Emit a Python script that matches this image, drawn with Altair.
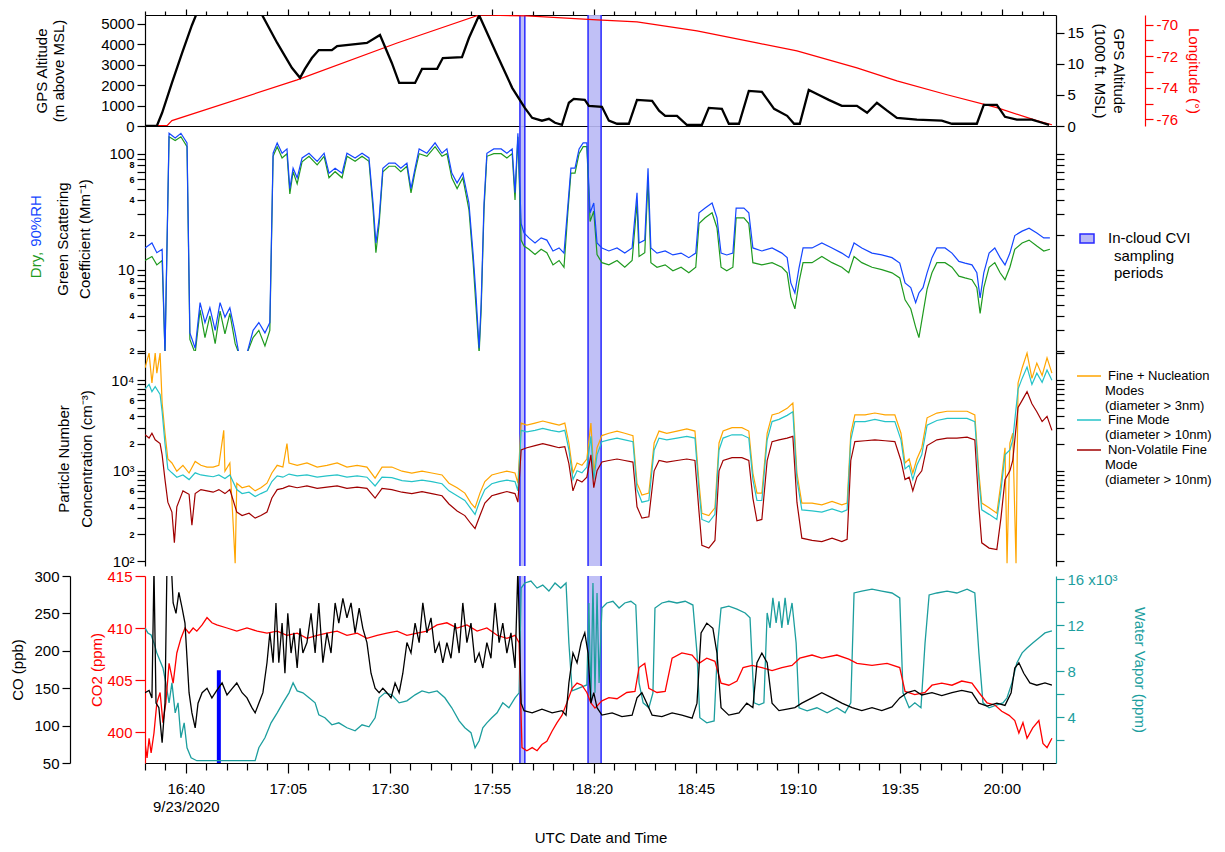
import altair as alt
import pandas as pd

FONT = "Liberation Sans"

# ---------------- time axis: minutes after 16:30 UTC on 9/23/2020 ----------------
x_domain = [0, 223.3]
major_ticks = [10, 35, 60, 85, 110, 135, 160, 185, 210]
minor_ticks = [0, 5, 15, 20, 25, 30, 40, 45, 50, 55, 65, 70, 75, 80, 90, 95, 100, 105,
               115, 120, 125, 130, 140, 145, 150, 155, 165, 170, 175, 180, 190, 195,
               200, 205, 215, 220]

# in-cloud CVI sampling periods (minutes after 16:30)
cvi_start = [91.9, 108.6]
cvi_end = [93.1, 111.8]

# ---------------- panel 1: GPS altitude (m) and longitude (deg) ----------------
altitude_m = [(0, 0), (2.9, 0), (4.2, 650), (6.6, 2110), (9.1, 3580), (11.5, 4940), (12.7, 5530),
              (16, 6500), (24, 6500), (28.7, 5440), (32.4, 4070), (36.0, 2850), (38.0, 2360),
              (39.2, 2800), (40.9, 3330), (42.6, 3720), (45.8, 3720), (47.1, 3920), (54.4, 4070),
              (57.6, 4460), (60.5, 3090), (62.3, 2110), (66.2, 2110), (67.9, 2800), (71.6, 2800),
              (73.0, 3330), (77.7, 3380), (79.4, 4310), (81.9, 5430), (86.3, 3480), (90.0, 1870),
              (93.1, 890), (94.9, 400), (97.3, 260), (99.0, 350), (100.5, 160), (102.2, 60),
              (103.9, 1140), (105.1, 1330), (107.8, 1280), (108.8, 990), (112.0, 940), (113.7, 260),
              (115.7, 110), (118.6, 110), (120.6, 1280), (124.3, 1230), (126.0, 750), (127.5, 500),
              (130.4, 500), (132.8, 60), (136.5, 60), (138.2, 890), (141.4, 840), (143.1, 110),
              (145.6, 110), (148.0, 1720), (151.2, 1670), (154.2, 840), (157.4, 500), (159.1, 110),
              (160.5, 110), (162.7, 1770), (165.2, 1520), (167.6, 1280), (170.8, 990), (174.5, 990),
              (177.0, 650), (179.4, 1140), (181.9, 750), (184.3, 400), (189.2, 310), (195.3, 260),
              (197.8, 110), (203.9, 110), (205.6, 1040), (208.8, 1040), (210.8, 450), (213.7, 310),
              (217.4, 310), (219.9, 160), (221.6, 60)]
longitude_deg = [(0, -76.4), (5.4, -76.4), (6.6, -76.08), (37.3, -73.5), (61.8, -71.16), (81.9, -69.39),
                 (93.6, -69.45), (110.8, -69.70), (120.6, -69.83), (135.3, -70.40), (150, -71.16),
                 (159.8, -71.66), (174.5, -72.74), (184.3, -73.56), (196.6, -74.44), (208.8, -75.26),
                 (218.6, -76.08), (222.3, -76.34)]
alt_ticks = [0, 1000, 2000, 3000, 4000, 5000]
kft_ticks = [0, 5, 10, 15]
lon_ticks = [-76, -75, -74, -73, -72, -71, -70]

# ---------------- panel 2: green scattering coefficient (Mm-1) ----------------
scat_90rh = [(0, 15.4), (1.7, 17), (2.9, 14), (4.2, 15), (4.9, 1.9), (5.9, 150), (7.4, 137), (8.8, 150),
             (10.3, 124), (11.0, 2.85), (12.3, 2.1), (13.5, 5.2), (14.7, 3.5), (15.9, 4.7), (17.2, 3.0),
             (18.4, 5.2), (19.6, 3.9), (20.8, 4.7), (22.1, 2.85), (23.0, 1.9), (25.0, 1.9), (26.5, 3.0),
             (27.9, 3.5), (29.4, 2.85), (30.6, 3.5), (31.4, 101), (32.4, 124), (33.6, 101), (34.8, 110),
             (35.5, 50), (36.3, 75), (37.3, 62), (38.5, 92), (40.2, 101), (42.2, 86), (43.9, 101),
             (45.1, 68), (46.6, 75), (48.3, 68), (49.5, 101), (51.5, 92), (53.2, 101), (54.9, 92),
             (55.9, 37.6), (56.6, 17), (57.4, 28), (58.3, 75), (59.8, 83), (61.3, 83), (62.7, 75),
             (64.2, 83), (65.2, 50), (66.2, 75), (67.2, 110), (69.1, 101), (71.1, 124), (72.8, 101),
             (74.0, 110), (75.2, 68), (76.5, 56), (77.9, 68), (79.4, 37.6), (80.4, 14), (81.1, 6.3),
             (81.9, 2.1), (82.4, 5.2), (83.1, 37.6), (83.8, 101), (85.5, 110), (87.3, 110), (88.7, 101),
             (90.0, 110), (90.7, 46), (91.4, 150), (92.2, 25), (92.9, 20.7), (94.1, 18.8), (95.6, 17),
             (97.1, 18.8), (98.5, 18), (100.0, 14.5), (101.5, 15.4), (102.7, 13.9), (103.7, 37.6),
             (104.4, 75), (105.4, 75), (106.4, 110), (107.4, 124), (108.3, 124), (109.1, 31), (110.0, 37.6),
             (110.8, 17), (112.0, 15.4), (113.7, 14.5), (115.7, 15.4), (117.6, 13.9), (119.4, 15.4),
             (120.6, 46), (121.1, 17), (122.5, 18), (123.3, 75), (124.0, 15.4), (125.5, 13.9), (127.5, 14.5),
             (129.4, 13.4), (131.4, 13.9), (133.3, 12.7), (135.0, 13.9), (135.8, 31), (137.3, 34),
             (139.0, 37.6), (140.2, 28), (141.2, 13.9), (142.6, 13.4), (144.1, 13.9), (144.9, 34),
             (146.8, 34), (148.0, 31), (149.0, 15.4), (151.2, 14.5), (153.7, 15.4), (156.1, 13.9),
             (157.4, 12.7), (158.3, 7.7), (159.3, 6.3), (160.3, 10.3), (161.3, 15.4), (163.5, 15.4),
             (165.9, 17), (168.4, 15.4), (170.8, 13.9), (172.5, 12.7), (173.8, 17), (175.7, 15.4),
             (178.2, 13.9), (180.6, 13.4), (183.1, 12.7), (185.0, 11.4), (186.3, 7.7), (187.7, 7),
             (188.9, 5.2), (189.7, 6.3), (190.7, 7), (191.7, 9.4), (192.9, 12.7), (194.1, 15.4),
             (196.1, 15.4), (197.8, 13.9), (199.5, 11.8), (201.0, 11.4), (202.7, 11), (203.9, 9.4),
             (204.7, 5.7), (205.6, 9.4), (206.9, 13.9), (208.3, 15.4), (209.6, 12.7), (210.8, 11),
             (212.0, 13.9), (213.2, 19.7), (215.0, 21.5), (216.7, 22.8), (218.6, 20.7), (220.3, 18.8),
             (221.8, 18.8)]
scat_dry = [(0, 12), (1.7, 13), (2.9, 11), (4.2, 12), (4.9, 1.9), (5.9, 140), (7.4, 130), (8.8, 140),
            (10.3, 115), (11.0, 2.5), (12.3, 1.9), (13.5, 4.5), (14.7, 2.6), (15.9, 4.0), (17.2, 2.3),
            (18.4, 4.4), (19.6, 2.8), (20.8, 4.2), (22.1, 2.3), (23.0, 1.9), (25.0, 1.9), (26.5, 2.6),
            (27.9, 3.0), (29.4, 2.2), (30.6, 3.0), (31.4, 95), (32.4, 115), (33.6, 92), (34.8, 100),
            (35.5, 45), (36.3, 70), (37.3, 55), (38.5, 85), (40.2, 95), (42.2, 80), (43.9, 95), (45.1, 62),
            (46.6, 70), (48.3, 62), (49.5, 95), (51.5, 86), (53.2, 95), (54.9, 86), (55.9, 33), (56.6, 14),
            (57.4, 25), (58.3, 70), (59.8, 78), (61.3, 78), (62.7, 70), (64.2, 78), (65.2, 46), (66.2, 70),
            (67.2, 100), (69.1, 95), (71.1, 115), (72.8, 95), (74.0, 100), (75.2, 62), (76.5, 50),
            (77.9, 62), (79.4, 33), (80.4, 12), (81.1, 5), (81.9, 1.9), (82.4, 4.5), (83.1, 33), (83.8, 95),
            (85.5, 100), (87.3, 100), (88.7, 92), (90.0, 100), (90.7, 40), (91.4, 140), (92.2, 18),
            (92.9, 16), (94.1, 15), (95.6, 13.5), (97.1, 15), (98.5, 14), (100.0, 11), (101.5, 12),
            (102.7, 10.5), (103.7, 33), (104.4, 68), (105.4, 68), (106.4, 100), (107.4, 115), (108.3, 115),
            (109.1, 26), (110.0, 32), (110.8, 13.5), (112.0, 11.5), (113.7, 11), (115.7, 12), (117.6, 10.5),
            (119.4, 12), (120.6, 38), (121.1, 13), (122.5, 14), (123.3, 60), (124.0, 11.5), (125.5, 10.5),
            (127.5, 11), (129.4, 9.8), (131.4, 10.5), (133.3, 9.4), (135.0, 10.5), (135.8, 25), (137.3, 28),
            (139.0, 31), (140.2, 23), (141.2, 10.5), (142.6, 9.8), (144.1, 10.5), (144.9, 28), (146.8, 28),
            (148.0, 25), (149.0, 11.5), (151.2, 11), (153.7, 11.5), (156.1, 10.5), (157.4, 9.4), (158.3, 5.8),
            (159.3, 4.6), (160.3, 7.8), (161.3, 11.5), (163.5, 11.5), (165.9, 13), (168.4, 11.5),
            (170.8, 10.5), (172.5, 9.4), (173.8, 13), (175.7, 11.5), (178.2, 10.5), (180.6, 10), (183.1, 9.4),
            (185.0, 8.5), (186.3, 5.5), (187.7, 4.6), (188.9, 3.2), (189.7, 2.6), (190.7, 4.2), (191.7, 6.8),
            (192.9, 9.4), (194.1, 11.5), (196.1, 11.5), (197.8, 10.5), (199.5, 8.8), (201.0, 8.5),
            (202.7, 8.2), (203.9, 7), (204.7, 4.2), (205.6, 7), (206.9, 10.5), (208.3, 11.5), (209.6, 9.4),
            (210.8, 8.2), (212.0, 10.5), (213.2, 15), (215.0, 17), (216.7, 18), (218.6, 16), (220.3, 14.5),
            (221.8, 15)]
scat_ticks = [2, 3, 4, 5, 6, 7, 8, 9, 10, 20, 30, 40, 50, 60, 70, 80, 90, 100]

# ---------------- panel 3: particle number concentration (cm-3) ----------------
pn_fine_nuc = [(0, 13700), (1.0, 20000), (1.7, 9350), (2.5, 20000), (2.9, 12000), (3.7, 20000), (4.2, 5600),
               (4.9, 2600), (5.6, 1350), (6.6, 1220), (7.8, 990), (9.3, 1150), (10.8, 945), (12.3, 1270),
               (13.7, 1150), (15.2, 1100), (16.7, 1100), (18.1, 1150), (19.3, 2800), (19.6, 990), (20.8, 1220),
               (21.6, 264), (22.1, 95), (22.5, 730), (23.8, 650), (25.5, 680), (27.0, 600), (28.4, 650),
               (29.9, 730), (31.1, 945), (32.4, 1150), (33.8, 1100), (34.8, 2000), (35.3, 1220), (37.3, 1150),
               (39.7, 1220), (42.2, 1100), (44.6, 1150), (47.1, 1220), (49.5, 1100), (52.0, 1150),
               (54.4, 1100), (56.4, 830), (58.1, 1100), (60.5, 1100), (63.0, 990), (65.4, 945), (67.9, 990),
               (70.3, 945), (72.8, 900), (74.5, 730), (76.5, 650), (78.4, 567), (79.9, 440), (80.9, 390),
               (82.1, 567), (83.3, 760), (85.0, 900), (86.8, 945), (88.7, 990), (90.7, 945), (91.4, 730),
               (92.2, 3370), (93.6, 3200), (95.6, 3370), (97.5, 3550), (99.5, 3370), (101.5, 3200),
               (102.9, 3370), (103.9, 2030), (104.9, 945), (105.9, 1220), (107.1, 1150), (108.3, 1350),
               (109.3, 3370), (110.0, 945), (110.8, 1800), (112.0, 2450), (113.7, 2600), (115.7, 2750),
               (117.6, 2600), (119.6, 2450), (120.6, 730), (121.8, 540), (123.5, 567), (124.8, 2030),
               (126.0, 2750), (127.9, 2600), (130.4, 2750), (132.8, 2900), (134.8, 2750), (135.8, 730),
               (136.5, 340), (138.2, 320), (139.7, 390), (140.7, 2030), (141.7, 2750), (143.9, 3000),
               (146.3, 3000), (148.0, 2750), (149.0, 945), (150.0, 567), (151.2, 567), (152.5, 2600),
               (153.7, 4150), (155.4, 4350), (157.4, 4900), (158.8, 5600), (159.8, 945), (161.0, 440),
               (163.5, 440), (165.9, 420), (168.4, 460), (170.8, 420), (172.1, 440), (173.0, 2600),
               (174.0, 4150), (176.5, 4150), (178.9, 4350), (181.4, 4150), (183.8, 4150), (185.3, 2600),
               (186.3, 1220), (187.3, 1350), (188.2, 945), (189.2, 1350), (190.4, 1800), (191.7, 3850),
               (194.1, 4350), (196.6, 4550), (199.0, 4550), (201.5, 4550), (203.4, 4150), (204.4, 945),
               (205.1, 440), (206.9, 390), (208.8, 340), (209.8, 730), (210.8, 1800), (211.3, 95),
               (212.0, 2030), (212.7, 2600), (213.5, 95), (214.0, 9350), (215.0, 13700), (216.2, 20000),
               (217.4, 10500), (218.6, 15500), (219.9, 11300), (221.1, 17700), (222.3, 12000)]
pn_fine = [(0, 8000), (1.0, 9000), (1.7, 7500), (2.5, 8500), (3.7, 7000), (4.2, 4500), (4.9, 2000),
           (5.6, 1050), (6.6, 950), (7.8, 850), (9.3, 900), (10.8, 800), (12.3, 950), (13.7, 900),
           (15.2, 880), (16.7, 860), (18.1, 900), (19.6, 820), (20.8, 900), (22.5, 620), (23.8, 560),
           (25.5, 580), (27.0, 520), (28.4, 560), (29.9, 600), (31.1, 760), (32.4, 880), (33.8, 850),
           (35.3, 920), (37.3, 880), (39.7, 900), (42.2, 850), (44.6, 880), (47.1, 900), (49.5, 850),
           (52.0, 880), (54.4, 850), (56.4, 680), (58.1, 850), (60.5, 840), (63.0, 780), (65.4, 760),
           (67.9, 790), (70.3, 760), (72.8, 720), (74.5, 600), (76.5, 530), (78.4, 470), (79.9, 380),
           (80.9, 330), (82.1, 470), (83.3, 620), (85.0, 720), (86.8, 760), (88.7, 790), (90.7, 760),
           (91.4, 600), (92.2, 2800), (93.6, 2700), (95.6, 2800), (97.5, 2950), (99.5, 2800), (101.5, 2700),
           (102.9, 2800), (103.9, 1700), (104.9, 800), (105.9, 1000), (107.1, 950), (108.3, 1100),
           (109.3, 2400), (110.0, 800), (110.8, 1500), (112.0, 2100), (113.7, 2200), (115.7, 2300),
           (117.6, 2200), (119.6, 2100), (120.6, 620), (121.8, 450), (123.5, 470), (124.8, 1700),
           (126.0, 2300), (127.9, 2200), (130.4, 2300), (132.8, 2400), (134.8, 2300), (135.8, 600),
           (136.5, 290), (138.2, 270), (139.7, 330), (140.7, 1700), (141.7, 2300), (143.9, 2500),
           (146.3, 2500), (148.0, 2300), (149.0, 800), (150.0, 470), (151.2, 470), (152.5, 2200),
           (153.7, 3500), (155.4, 3700), (157.4, 4100), (158.8, 4500), (159.8, 800), (161.0, 370),
           (163.5, 360), (165.9, 350), (168.4, 380), (170.8, 350), (172.1, 370), (173.0, 2200),
           (174.0, 3500), (176.5, 3500), (178.9, 3700), (181.4, 3500), (183.8, 3500), (185.3, 2200),
           (186.3, 1050), (187.3, 1150), (188.2, 800), (189.2, 1150), (190.4, 1500), (191.7, 3200),
           (194.1, 3600), (196.6, 3800), (199.0, 3800), (201.5, 3800), (203.4, 3500), (204.4, 800),
           (205.1, 370), (206.9, 330), (208.8, 290), (209.8, 600), (210.8, 1500), (212.0, 1700),
           (212.7, 2200), (214.0, 8000), (215.0, 10500), (216.2, 14000), (217.4, 9000), (218.6, 12000),
           (219.9, 9500), (221.1, 13000), (222.3, 10000)]
pn_nonvol = [(0, 2500), (1.0, 2300), (1.7, 2600), (2.5, 2200), (3.7, 2000), (4.2, 1500), (4.9, 800),
             (5.6, 450), (6.6, 350), (7.2, 160), (7.8, 400), (9.3, 600), (10.8, 550), (11.5, 250),
             (12.3, 560), (13.7, 620), (15.2, 600), (16.7, 580), (18.1, 620), (19.6, 560), (20.8, 620),
             (22.5, 350), (23.8, 320), (25.5, 340), (27.0, 300), (28.4, 320), (29.9, 350), (31.1, 500),
             (32.4, 620), (33.8, 640), (35.3, 680), (37.3, 650), (39.7, 680), (42.2, 640), (44.6, 660),
             (47.1, 680), (49.5, 640), (52.0, 660), (54.4, 640), (56.4, 500), (58.1, 640), (60.5, 620),
             (63.0, 580), (65.4, 560), (67.9, 590), (70.3, 560), (72.8, 530), (74.5, 430), (76.5, 360),
             (78.4, 320), (79.9, 260), (80.9, 230), (82.1, 320), (83.3, 440), (85.0, 530), (86.8, 560),
             (88.7, 590), (90.7, 560), (91.4, 450), (92.2, 1700), (93.6, 1800), (95.6, 1900), (97.5, 2000),
             (99.5, 1900), (101.5, 1800), (102.9, 1850), (103.9, 1200), (104.9, 600), (105.9, 800),
             (107.1, 750), (108.3, 850), (109.3, 1500), (110.0, 650), (110.8, 1000), (112.0, 1250),
             (113.7, 1300), (115.7, 1350), (117.6, 1300), (119.6, 1250), (120.6, 400), (121.8, 300),
             (123.5, 310), (124.8, 1000), (126.0, 1300), (127.9, 1250), (130.4, 1300), (132.8, 1350),
             (134.8, 1300), (135.8, 350), (136.5, 150), (138.2, 140), (139.7, 170), (140.7, 1000),
             (141.7, 1300), (143.9, 1400), (146.3, 1400), (148.0, 1300), (149.0, 500), (150.0, 280),
             (151.2, 290), (152.5, 1300), (153.7, 2100), (155.4, 2200), (157.4, 2300), (158.8, 2400),
             (159.8, 450), (161.0, 180), (163.5, 170), (165.9, 165), (168.4, 180), (170.8, 165),
             (172.1, 175), (173.0, 1300), (174.0, 2100), (176.5, 2150), (178.9, 2200), (181.4, 2150),
             (183.8, 2100), (185.3, 1300), (186.3, 800), (187.3, 850), (188.2, 600), (189.2, 850),
             (190.4, 1000), (191.7, 1900), (194.1, 2200), (196.6, 2300), (199.0, 2300), (201.5, 2350),
             (203.4, 2200), (204.4, 400), (205.1, 160), (206.9, 140), (208.8, 135), (209.8, 300),
             (210.8, 800), (212.0, 1000), (212.7, 1300), (214.0, 5000), (215.0, 6000), (216.2, 7500),
             (217.4, 5500), (218.6, 4500), (219.9, 3500), (221.1, 4000), (222.3, 2800)]
pn_ticks = [100, 200, 300, 400, 500, 600, 700, 800, 900, 1000, 2000, 3000, 4000, 5000, 6000, 7000,
            8000, 9000, 10000, 20000]

# ---------------- panel 4: CO (ppb), CO2 (ppm), water vapor (ppm) ----------------
co_ppb = [(0, 144), (1.0, 147), (1.7, 137), (2.2, 310), (2.7, 130), (3.4, 124), (4.2, 77), (4.9, 130),
          (5.4, 320), (6.4, 320), (6.9, 264), (7.6, 250), (8.3, 278), (9.1, 257), (9.8, 237), (10.3, 190),
          (10.8, 144), (11.5, 117), (12.3, 97), (13.0, 130), (14.0, 144), (15.2, 150), (16.4, 137),
          (17.6, 147), (18.9, 157), (20.1, 141), (21.3, 149), (22.5, 157), (23.8, 144), (25.0, 137),
          (26.2, 124), (27.0, 117), (27.9, 130), (28.9, 144), (29.9, 184), (30.6, 224), (31.4, 184),
          (32.1, 264), (32.8, 184), (33.6, 237), (34.3, 170), (35.0, 250), (35.8, 197), (36.5, 224),
          (37.3, 177), (38.0, 230), (38.7, 197), (39.7, 211), (40.7, 250), (41.7, 197), (42.6, 264),
          (43.6, 184), (44.6, 224), (45.6, 197), (46.6, 264), (47.5, 237), (48.5, 270), (49.5, 244),
          (50.5, 264), (51.5, 224), (52.5, 257), (53.4, 230), (54.4, 211), (55.4, 170), (56.4, 150),
          (57.4, 144), (58.3, 150), (59.3, 144), (60.3, 137), (61.3, 157), (62.3, 144), (63.2, 170),
          (64.2, 211), (65.2, 197), (66.2, 237), (67.2, 211), (68.1, 264), (69.1, 224), (70.1, 244),
          (71.1, 197), (72.1, 211), (73.0, 184), (74.0, 211), (75.0, 190), (76.0, 237), (77.0, 197),
          (77.9, 264), (78.9, 211), (79.9, 237), (80.9, 184), (81.9, 197), (82.8, 177), (83.8, 211),
          (84.8, 190), (85.8, 264), (86.8, 211), (87.7, 237), (88.7, 197), (89.7, 224), (90.7, 177),
          (91.4, 310), (92.2, 130), (92.9, 120), (94.9, 117), (97.3, 122), (99.8, 117), (102.2, 120),
          (103.2, 114), (103.9, 157), (104.9, 197), (105.9, 184), (106.9, 211), (107.8, 224), (108.6, 197),
          (109.3, 130), (110.0, 144), (110.8, 124), (112.0, 114), (114.5, 117), (116.9, 112), (119.4, 114),
          (120.6, 137), (121.8, 144), (123.0, 130), (124.3, 114), (126.7, 112), (129.2, 117), (131.6, 114),
          (134.1, 110), (135.3, 130), (136.3, 224), (137.7, 237), (139.2, 230), (140.2, 197), (141.2, 124),
          (143.1, 114), (145.6, 117), (147.5, 130), (149.0, 124), (150.0, 184), (151.2, 197), (152.5, 184),
          (153.7, 130), (155.4, 120), (157.4, 122), (159.3, 124), (161.0, 130), (163.5, 137), (165.9, 144),
          (168.4, 137), (170.8, 130), (173.3, 124), (175.7, 120), (178.2, 124), (180.6, 120), (183.1, 125),
          (185.0, 137), (186.8, 144), (188.7, 147), (190.4, 141), (192.9, 144), (195.3, 140), (197.8, 144),
          (200.2, 147), (202.7, 144), (204.4, 130), (206.4, 126), (208.8, 130), (210.8, 127), (212.3, 144),
          (213.2, 177), (214.2, 184), (215.4, 170), (216.9, 157), (218.6, 154), (220.6, 157), (222.3, 154)]
co2_ppm = [(0, 399.0), (0.5, 397.5), (1.0, 399.4), (1.5, 398.0), (2.2, 399.9), (2.9, 402.8), (3.7, 403.8),
           (4.4, 400.9), (5.1, 402.8), (5.9, 406.6), (6.9, 404.7), (7.8, 407.6), (8.8, 409.0), (9.8, 410.0),
           (10.8, 409.5), (11.8, 410.0), (12.7, 409.7), (14.0, 410.3), (15.2, 411.0), (16.4, 410.5),
           (17.6, 410.3), (20.1, 410.0), (22.5, 409.7), (25.0, 410.0), (27.5, 409.7), (29.9, 409.5),
           (32.4, 409.7), (34.8, 409.3), (37.3, 409.5), (39.7, 409.0), (42.2, 409.3), (44.6, 409.5),
           (47.1, 409.7), (49.5, 409.3), (52.0, 409.5), (54.4, 409.0), (56.9, 409.3), (59.3, 409.5),
           (61.8, 409.7), (64.2, 409.3), (66.7, 409.5), (69.1, 409.7), (71.6, 410.3), (74.0, 410.5),
           (76.5, 410.0), (78.9, 410.3), (81.4, 409.7), (83.8, 410.0), (86.3, 409.3), (88.7, 409.0),
           (90.7, 409.3), (91.7, 408.6), (92.4, 398.5), (93.6, 398.2), (94.9, 398.5), (96.1, 398.2),
           (97.3, 398.8), (98.5, 399.1), (99.8, 400.1), (101.0, 400.9), (102.2, 401.6), (103.4, 402.8),
           (104.7, 404.2), (105.9, 404.7), (107.1, 404.5), (108.3, 403.8), (109.3, 402.8), (110.3, 402.3),
           (112.0, 403.0), (113.7, 403.3), (115.7, 403.2), (118.1, 403.8), (120.1, 403.9), (121.1, 406.2),
           (122.5, 406.6), (123.5, 404.2), (125.5, 403.8), (127.5, 403.9), (129.2, 407.1), (131.6, 407.6),
           (134.1, 407.4), (135.8, 406.6), (137.7, 407.1), (139.7, 406.8), (141.2, 404.7), (143.1, 404.5),
           (145.1, 404.9), (146.6, 406.2), (148.8, 406.4), (151.2, 406.2), (153.7, 405.9), (156.1, 406.2),
           (158.6, 406.4), (160.5, 407.1), (163.5, 407.4), (165.9, 407.1), (169.6, 407.4), (172.5, 407.0),
           (174.5, 406.6), (178.2, 406.4), (181.9, 406.6), (185.0, 406.2), (186.3, 403.9), (188.7, 403.6),
           (191.2, 403.8), (192.9, 404.5), (195.3, 404.7), (197.8, 404.5), (200.2, 404.9), (202.7, 404.7),
           (204.4, 403.8), (206.4, 402.8), (208.3, 402.6), (210.0, 402.0), (211.8, 401.6), (213.2, 401.1),
           (214.2, 399.9), (215.2, 400.9), (216.2, 399.4), (217.6, 400.4), (219.1, 401.1), (220.1, 398.9),
           (221.1, 398.5), (222.3, 399.4)]
h2o_ppm = [(0, 11770), (0.7, 11330), (1.5, 11150), (2.2, 10460), (2.9, 9590), (3.7, 8890), (4.4, 8280),
           (5.1, 6980), (5.9, 5240), (6.6, 6980), (7.4, 4370), (8.1, 5240), (8.8, 2200), (9.6, 3500),
           (10.3, 1330), (11.3, 460), (12.7, 200), (15.2, 200), (17.6, 200), (20.1, 200), (22.5, 200),
           (25.0, 200), (27.0, 200), (27.9, 1330), (29.4, 2200), (30.9, 3500), (32.4, 4370), (33.8, 5240),
           (35.3, 6110), (36.3, 6980), (37.3, 6280), (38.7, 6110), (40.2, 5680), (41.7, 5240), (42.6, 4200),
           (44.1, 3940), (45.8, 3330), (47.5, 3500), (49.5, 3070), (51.5, 2810), (53.2, 3330), (54.9, 3150),
           (56.4, 3940), (57.4, 5680), (58.8, 6110), (60.5, 5940), (62.3, 5240), (64.2, 5410), (66.2, 5940),
           (67.9, 6280), (69.6, 6110), (71.6, 6280), (73.5, 5680), (75.2, 4810), (77.0, 3670), (78.4, 3070),
           (79.9, 2640), (80.9, 1330), (81.9, 1940), (82.8, 3070), (83.8, 3500), (85.0, 3940), (86.3, 4370),
           (87.7, 5240), (89.2, 4810), (90.7, 5680), (91.7, 6110), (92.2, 15240), (93.1, 15680),
           (94.6, 15850), (96.1, 15240), (97.5, 15500), (99.0, 14980), (100.5, 15680), (101.9, 15240),
           (103.2, 15680), (103.9, 10460), (104.7, 6280), (105.9, 6450), (107.1, 6630), (108.3, 6800),
           (108.8, 13940), (109.3, 5240), (109.8, 15680), (110.3, 6110), (110.8, 14810), (111.3, 6980),
           (112.0, 13500), (113.2, 13940), (114.7, 14090), (116.2, 13500), (117.6, 13940), (119.1, 14090),
           (120.3, 13760), (121.1, 6980), (122.1, 5240), (123.5, 4810), (124.5, 6110), (125.0, 13500),
           (126.7, 13940), (128.4, 14090), (130.4, 13940), (132.4, 14090), (134.3, 13760), (135.3, 9590),
           (136.0, 3940), (137.7, 3500), (139.5, 3670), (140.4, 10460), (141.2, 13500), (143.1, 13670),
           (145.1, 13410), (147.1, 13070), (148.3, 12640), (149.3, 5240), (150.5, 5070), (151.7, 5240),
           (152.5, 13070), (153.2, 11770), (153.9, 14380), (154.7, 12200), (155.4, 14090), (156.1, 11770),
           (156.9, 14380), (157.6, 12030), (158.6, 13940), (159.6, 10460), (160.3, 4810), (162.3, 4550),
           (164.7, 4810), (167.2, 4370), (169.6, 4810), (171.6, 4370), (173.0, 5240), (173.8, 14810),
           (175.7, 14980), (178.2, 15150), (180.6, 14980), (183.1, 14810), (185.0, 14380), (185.8, 6110),
           (187.3, 4810), (188.7, 5240), (190.2, 4810), (191.2, 10460), (192.2, 14640), (194.1, 14810),
           (196.6, 14980), (199.0, 14810), (201.5, 15150), (203.4, 14810), (204.4, 9590), (205.4, 5240),
           (206.9, 4810), (208.8, 5070), (210.3, 5240), (211.3, 5680), (212.5, 6980), (213.7, 8720),
           (215.0, 9590), (216.2, 10020), (217.6, 10460), (219.1, 10890), (220.6, 11330), (222.3, 11500)]
blue_flag = [(18.1, 50, 174)]
co_ticks = [50, 100, 150, 200, 250, 300]
co2_ticks = [400, 405, 410, 415]
h2o_ticks = [2000, 4000, 6000, 8000, 10000, 12000, 14000, 16000]

# ---------------- colors ----------------
C_BLUE = "#1446ff"
C_GREEN = "#1f9a1f"
C_ORANGE = "#ffa500"
C_CYAN = "#25c3c8"
C_DRED = "#a00000"
C_RED = "#ff0000"
C_TEAL = "#1c9e9e"
C_BAND = "#b9b9f5"
C_BANDEDGE = "#2828ff"

W = 911
H1, H2, H3, GAP, H4 = 111, 225, 215, 10, 187

xs = alt.Scale(domain=x_domain, nice=False, zero=False)


def df(pairs):
    return pd.DataFrame(pairs, columns=["t", "v"])


def X(axis=None):
    return alt.X("t:Q", scale=xs, axis=axis)


dummy = pd.DataFrame({"t": [0.0], "v": [0.0]})
one = pd.DataFrame({"k": [0]})


def text(s, x, y, color="black", size=15, angle=0, align="left"):
    return alt.Chart(one).mark_text(text=s, font=FONT, fontSize=size, color=color, angle=angle,
                                    align=align, baseline="middle").encode(
        x=alt.value(x), y=alt.value(y))


def bands(h):
    cvi = pd.DataFrame({"t": cvi_start, "t2": cvi_end})
    edges = pd.DataFrame({"t": cvi_start + cvi_end})
    fill = alt.Chart(cvi).mark_rect(color=C_BAND, opacity=0.9).encode(
        x=X(), x2="t2:Q", y=alt.value(0), y2=alt.value(h))
    rule = alt.Chart(edges).mark_rule(color=C_BANDEDGE, strokeWidth=1.5).encode(
        x=X(), y=alt.value(0), y2=alt.value(h))
    return [fill, rule]


# ================= PANEL 1 =================
lon_layer = alt.Chart(df(longitude_deg)).mark_line(color=C_RED, strokeWidth=1.2, clip=True).encode(
    x=X(),
    y=alt.Y("v:Q", scale=alt.Scale(domain=[-76.42, -69.39], nice=False, zero=False),
            axis=alt.Axis(orient="right", offset=89, values=lon_ticks,
                          labelExpr="datum.value % 2 == 0 ? '-' + abs(datum.value) : ''",
                          domainColor=C_RED, tickColor=C_RED, labelColor=C_RED, titleColor=C_RED,
                          title="Longitude (°)", titlePadding=8)))
alt_layer = alt.Chart(df(altitude_m)).mark_line(color="black", strokeWidth=2.3, clip=True).encode(
    x=X(alt.Axis(orient="top", values=major_ticks, labels=False, tickSize=6, title=None)),
    y=alt.Y("v:Q", scale=alt.Scale(domain=[0, 5440], nice=False),
            axis=alt.Axis(values=alt_ticks, format="d", title=["GPS Altitude", "(m above MSL)"],
                          titlePadding=34, titleLineHeight=17)))
kft_layer = alt.Chart(dummy).mark_point(opacity=0).encode(
    x=X(alt.Axis(orient="top", values=minor_ticks, labels=False, tickSize=4, domain=False, title=None)),
    y=alt.Y("v:Q", scale=alt.Scale(domain=[0, 17.85], nice=False),
            axis=alt.Axis(orient="right", values=kft_ticks, title=["GPS Altitude", "(1000 ft. MSL)"],
                          titlePadding=8, titleLineHeight=19)))
zero_layer = alt.Chart(dummy).mark_point(opacity=0).encode(
    x=X(alt.Axis(orient="bottom", ticks=False, labels=False, title=None)))

p1 = alt.layer(*bands(H1), lon_layer, alt_layer, kft_layer, zero_layer).resolve_scale(
    y="independent").resolve_axis(x="independent", y="independent").properties(width=W, height=H1)

# ================= PANEL 2 =================
scat_scale = alt.Scale(type="log", domain=[1.99, 173.4], nice=False)
scat_label = ("datum.value == 100 ? '100' : datum.value == 10 ? '10' : "
              "indexof([2, 4, 6, 8], datum.value) >= 0 ? '' + datum.value : "
              "indexof([20, 40, 60, 80], datum.value) >= 0 ? '' + (datum.value / 10) : ''")
big_scat = {"condition": {"test": "datum.value == 10 || datum.value == 100", "value": 15}, "value": 9}
bold_scat = {"condition": {"test": "datum.value == 10 || datum.value == 100", "value": "normal"}, "value": "bold"}

green_layer = alt.Chart(df(scat_dry)).mark_line(color=C_GREEN, strokeWidth=1.2, clip=True).encode(
    x=X(), y=alt.Y("v:Q", scale=scat_scale, axis=None))
blue_layer = alt.Chart(df(scat_90rh)).mark_line(color=C_BLUE, strokeWidth=1.2, clip=True).encode(
    x=X(), y=alt.Y("v:Q", scale=scat_scale,
                   axis=alt.Axis(values=scat_ticks, labelExpr=scat_label, labelFontSize=big_scat,
                                 labelFontWeight=bold_scat, labelOverlap=False,
                                 title=["Green Scattering", "Coefficient (Mm⁻¹)"],
                                 titlePadding=16, titleLineHeight=22)))
scat_right = alt.Chart(dummy).mark_point(opacity=0).encode(
    x=X(), y=alt.Y("v:Q", scale=scat_scale,
                   axis=alt.Axis(orient="right", values=scat_ticks, labels=False, title=None)))

p2 = alt.layer(
    *bands(H2), green_layer, blue_layer, scat_right,
    text("Dry,", -109, 139, color=C_GREEN, angle=270, align="center"),
    text("90%RH", -109, 95, color=C_BLUE, angle=270, align="center"),
    alt.Chart(one).mark_rect(fill=C_BAND, stroke=C_BANDEDGE, strokeWidth=1.5).encode(
        x=alt.value(935), x2=alt.value(949), y=alt.value(108), y2=alt.value(117)),
    text("In-cloud CVI", 963, 112),
    text("sampling", 969, 130),
    text("periods", 969, 147),
).resolve_scale(y="independent").resolve_axis(x="independent", y="independent").properties(width=W, height=H2)

# ================= PANEL 3 =================
pn_scale = alt.Scale(type="log", domain=[88.7, 21090], nice=False)
pn_label = ("datum.value == 100 ? '10²' : datum.value == 1000 ? '10³' : datum.value == 10000 ? '10⁴' : "
            "indexof([200, 2000], datum.value) >= 0 ? '2' : "
            "indexof([400, 4000], datum.value) >= 0 ? '4' : "
            "indexof([600, 6000], datum.value) >= 0 ? '6' : ''")
big_pn = {"condition": {"test": "datum.value == 100 || datum.value == 1000 || datum.value == 10000",
                        "value": 15}, "value": 9}
bold_pn = {"condition": {"test": "datum.value == 100 || datum.value == 1000 || datum.value == 10000",
                         "value": "normal"}, "value": "bold"}

orange_layer = alt.Chart(df(pn_fine_nuc)).mark_line(color=C_ORANGE, strokeWidth=1.2, clip=True).encode(
    x=X(), y=alt.Y("v:Q", scale=pn_scale,
                   axis=alt.Axis(values=pn_ticks, labelExpr=pn_label, labelFontSize=big_pn,
                                 labelFontWeight=bold_pn, labelOverlap=False,
                                 title=["Particle Number", "Concentration (cm⁻³)"],
                                 titlePadding=16, titleLineHeight=23)))
cyan_layer = alt.Chart(df(pn_fine)).mark_line(color=C_CYAN, strokeWidth=1.2, clip=True).encode(
    x=X(), y=alt.Y("v:Q", scale=pn_scale, axis=None))
dred_layer = alt.Chart(df(pn_nonvol)).mark_line(color=C_DRED, strokeWidth=1.2, clip=True).encode(
    x=X(), y=alt.Y("v:Q", scale=pn_scale, axis=None))
pn_right = alt.Chart(dummy).mark_point(opacity=0).encode(
    x=X(), y=alt.Y("v:Q", scale=pn_scale,
                   axis=alt.Axis(orient="right", values=pn_ticks, labels=False, title=None)))


def legline(color, y):
    return alt.Chart(one).mark_rule(color=color, strokeWidth=1.5).encode(
        x=alt.value(932), x2=alt.value(956), y=alt.value(y))


p3 = alt.layer(
    *bands(H3), orange_layer, cyan_layer, dred_layer, pn_right,
    legline(C_ORANGE, 25), text("Fine + Nucleation", 963, 25, size=13),
    text("Modes", 960, 40, size=13), text("(diameter > 3nm)", 960, 55, size=13),
    legline(C_CYAN, 69), text("Fine Mode", 963, 69, size=13),
    text("(diameter > 10nm)", 960, 84, size=13),
    legline(C_DRED, 99), text("Non-Volatile Fine", 963, 99, size=13),
    text("Mode", 960, 114, size=13), text("(diameter > 10nm)", 960, 129, size=13),
).resolve_scale(y="independent").resolve_axis(x="independent", y="independent").properties(width=W, height=H3)

# spacer between the aerosol panels and the trace-gas panel
spacer = alt.Chart(dummy).mark_point(opacity=0).encode(x=X()).properties(width=W, height=GAP)

# ================= PANEL 4 =================
x_label = ("datum.value == 10 ? ['16:40', '9/23/2020'] : "
           "timeFormat(datetime(2020, 8, 23, 16, 30 + datum.value), '%H:%M')")

h2o_layer = alt.Chart(df(h2o_ppm)).mark_line(color=C_TEAL, strokeWidth=1.3, clip=True).encode(
    x=X(), y=alt.Y("v:Q", scale=alt.Scale(domain=[0, 16290], nice=False),
                   axis=alt.Axis(orient="right", values=h2o_ticks,
                                 labelExpr="datum.value == 16000 ? '16 x10³' : datum.value % 4000 == 0 ? '' + (datum.value / 1000) : ''",
                                 domainColor=C_TEAL, tickColor=C_TEAL, labelColor=C_TEAL, titleColor=C_TEAL,
                                 title="Water Vapor (ppm)", titlePadding=14)))
co2_layer = alt.Chart(df(co2_ppm)).mark_line(color=C_RED, strokeWidth=1.3, clip=True).encode(
    x=X(), y=alt.Y("v:Q", scale=alt.Scale(domain=[397.02, 415], nice=False, zero=False),
                   axis=alt.Axis(orient="left", values=co2_ticks, domainColor=C_RED, tickColor=C_RED,
                                 labelColor=C_RED, titleColor=C_RED, tickSize=10,
                                 title="CO2 (ppm)", titlePadding=2)))
co_layer = alt.Chart(df(co_ppb)).mark_line(color="black", strokeWidth=1.3, clip=True).encode(
    x=X(alt.Axis(orient="bottom", values=major_ticks, labelExpr=x_label, tickSize=10, labelPadding=8,
                 labelLineHeight=18, title="UTC Date and Time", titlePadding=16, labelFlush=False)),
    y=alt.Y("v:Q", scale=alt.Scale(domain=[50, 300], nice=False),
            axis=alt.Axis(orient="left", offset=75, values=co_ticks, title="CO (ppb)", titlePadding=8)))
minor_layer = alt.Chart(dummy).mark_point(opacity=0).encode(
    x=X(alt.Axis(orient="bottom", values=minor_ticks, labels=False, tickSize=7, domain=False, title=None)))
flag_layer = alt.Chart(pd.DataFrame(blue_flag, columns=["t", "lo", "hi"])).mark_rule(
    color="#0000ff", strokeWidth=4).encode(
    x=X(), y=alt.Y("lo:Q", scale=alt.Scale(domain=[50, 300], nice=False), axis=None), y2="hi:Q")

p4 = alt.layer(*bands(H4), flag_layer, h2o_layer, co2_layer, co_layer, minor_layer).resolve_scale(
    y="independent").resolve_axis(x="independent", y="independent").properties(width=W, height=H4)

chart = alt.vconcat(p1, p2, p3, spacer, p4, spacing=0, bounds="flush").properties(
    padding={"left": 2, "top": 0, "right": 2, "bottom": 2}
).configure(font=FONT).configure_view(stroke=None).configure_axis(
    grid=False, labelFont=FONT, titleFont=FONT, labelFontSize=15, titleFontSize=15,
    titleFontWeight="normal", labelColor="black", titleColor="black", domainColor="black",
    tickColor="black", tickSize=8, labelPadding=3, domainWidth=1.2, tickWidth=1.2, labelFlush=False
)

chart.save("out.html", embed_options={"renderer": "svg", "actions": False})
